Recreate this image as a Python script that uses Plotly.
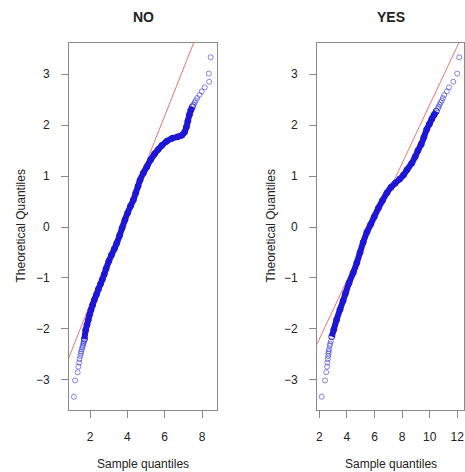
import plotly.graph_objects as go

# ---------------- data ----------------
panel_titles = ["NO", "YES"]

# NO panel: dense band of points (sample quantile, theoretical quantile)
no_band_sample = [1.70, 1.77, 1.84, 1.91, 1.98, 2.05, 2.14, 2.23, 2.34,
                  2.45, 2.56, 2.66, 2.76, 2.86, 3.01, 3.15, 3.30, 3.43, 3.58, 3.72, 3.87,
                  4.02, 4.17, 4.32, 4.45, 4.57, 4.68, 4.86, 5.04, 5.25, 5.45, 5.65, 5.85,
                  6.10, 6.40, 6.70, 6.92, 7.06, 7.16, 7.24, 7.32, 7.40, 7.48]
no_band_theor = [-2.20, -2.02, -1.92, -1.82, -1.72, -1.63, -1.53, -1.43, -1.33,
                 -1.22, -1.12, -1.03, -0.93, -0.82, -0.67, -0.55, -0.43, -0.32, -0.17, -0.02, 0.14,
                 0.28, 0.41, 0.53, 0.67, 0.80, 0.92, 1.06, 1.18, 1.32, 1.43, 1.52, 1.60,
                 1.68, 1.74, 1.77, 1.80, 1.86, 1.96, 2.08, 2.20, 2.29, 2.36]
# NO panel: individually visible tail points
no_tail_sample = [1.14, 1.20, 1.34, 1.38, 1.42, 1.44, 1.48, 1.51, 1.53, 1.56, 1.59, 1.61,
                  1.64, 1.66, 1.68,
                  7.55, 7.60, 7.66, 7.74, 7.86, 7.98, 8.14, 8.38, 8.36, 8.46]
no_tail_theor = [-3.33, -3.01, -2.85, -2.74, -2.66, -2.59, -2.53, -2.48, -2.44, -2.40, -2.36, -2.33,
                 -2.29, -2.27, -2.24,
                 2.40, 2.44, 2.48, 2.53, 2.59, 2.66, 2.74, 2.85, 3.01, 3.33]
# NO panel: sample quartiles used for the reference line
no_quartiles = [2.91, 4.37]

# YES panel
yes_band_sample = [2.90, 3.05, 3.25, 3.50, 3.72, 3.90, 4.15, 4.45, 4.72,
                   4.95, 5.18, 5.45, 5.72, 5.98, 6.28, 6.58, 6.90, 7.20, 7.50, 7.82, 8.10,
                   8.35, 8.70, 8.95, 9.15, 9.38, 9.58, 9.78, 9.98, 10.16, 10.32, 10.48]
yes_band_theor = [-2.15, -2.01, -1.82, -1.62, -1.45, -1.30, -1.10, -0.90, -0.70,
                  -0.50, -0.30, -0.10, 0.05, 0.20, 0.37, 0.52, 0.67, 0.78, 0.86, 0.94, 1.02,
                  1.12, 1.25, 1.38, 1.50, 1.62, 1.76, 1.91, 2.02, 2.12, 2.20, 2.27]
yes_tail_sample = [2.17, 2.41, 2.50, 2.56, 2.58, 2.61, 2.64, 2.66, 2.68, 2.70, 2.75, 2.79, 2.83,
                   10.60, 10.66, 10.72, 10.80, 10.88, 10.96, 11.05, 11.25, 11.40, 11.71, 12.00, 12.14]
yes_tail_theor = [-3.33, -3.01, -2.85, -2.74, -2.66, -2.59, -2.53, -2.48, -2.44, -2.40, -2.33, -2.29, -2.24,
                  2.33, 2.36, 2.40, 2.44, 2.48, 2.53, 2.59, 2.66, 2.74, 2.85, 3.01, 3.33]
yes_quartiles = [4.65, 7.00]

q75 = 0.6745  # standard normal 75% quantile

x_ticks = [[2, 4, 6, 8], [2, 4, 6, 8, 10, 12]]
y_ticks = [-3, -2, -1, 0, 1, 2, 3]

# ---------------- figure ----------------
W, H = 465, 472
BAND = "#1e16d6"
TAIL = "rgba(50,50,235,0.6)"
RED = "rgba(238,90,90,0.85)"
GRAY = "#8a8a8a"
TXT = "#222222"
FONT = "Liberation Sans, Arial, sans-serif"

fig = go.Figure()

panels = [
    (no_band_sample, no_band_theor, no_tail_sample, no_tail_theor, no_quartiles, "x", "y"),
    (yes_band_sample, yes_band_theor, yes_tail_sample, yes_tail_theor, yes_quartiles, "x2", "y2"),
]
for bs, bt, ts, tt, q, xa, ya in panels:
    slope = (2 * q75) / (q[1] - q[0])
    lx = [q[0] - 20, q[1] + 20]
    ly = [-q75 + slope * (v - q[0]) for v in lx]
    fig.add_trace(go.Scatter(x=lx, y=ly, mode="lines", line=dict(color=RED, width=1),
                             xaxis=xa, yaxis=ya, hoverinfo="skip"))
    fig.add_trace(go.Scatter(x=bs, y=bt, mode="lines+markers",
                             line=dict(color=BAND, width=6, shape="spline"),
                             marker=dict(symbol="circle-open", size=6, color=BAND, line=dict(width=1)),
                             xaxis=xa, yaxis=ya, hoverinfo="skip"))
    fig.add_trace(go.Scatter(x=ts, y=tt, mode="markers",
                             marker=dict(symbol="circle-open", size=5, color=TAIL, line=dict(width=1)),
                             xaxis=xa, yaxis=ya, hoverinfo="skip"))

ydom = [1 - 410 / H, 1 - 43 / H]
xdoms = [[69 / W, 217 / W], [317 / W, 464 / W]]
xranges = [[0.875, 8.80], [1.83, 12.49]]

axis_common = dict(showgrid=False, zeroline=False, showline=True, mirror=True,
                   linecolor=GRAY, linewidth=1, ticks="outside", ticklen=7,
                   tickcolor=GRAY, tickwidth=1,
                   tickfont=dict(family=FONT, size=12, color=TXT))

fig.update_layout(
    width=W, height=H,
    margin=dict(l=0, r=0, t=0, b=0),
    paper_bgcolor="white", plot_bgcolor="white",
    showlegend=False,
    xaxis=dict(domain=xdoms[0], range=xranges[0], tickvals=x_ticks[0], anchor="y",
               ticklabelstandoff=9, **axis_common),
    yaxis=dict(domain=ydom, range=[-3.59, 3.61], tickvals=y_ticks, anchor="x",
               ticklabelstandoff=9, **axis_common),
    xaxis2=dict(domain=xdoms[1], range=xranges[1], tickvals=x_ticks[1], anchor="y2",
                ticklabelstandoff=9, **axis_common),
    yaxis2=dict(domain=ydom, range=[-3.59, 3.61], tickvals=y_ticks, anchor="x2",
                ticklabelstandoff=9, **axis_common),
)

ann = []
centers = [(xdoms[0][0] + xdoms[0][1]) / 2, (xdoms[1][0] + xdoms[1][1]) / 2]
ytitle_x = [20 / W, 270 / W]
for i in range(2):
    ann.append(dict(text="<b>%s</b>" % panel_titles[i], x=centers[i], y=1 - 17 / H,
                    xref="paper", yref="paper", showarrow=False,
                    font=dict(family=FONT, size=14, color=TXT), xanchor="center", yanchor="middle"))
    ann.append(dict(text="Sample quantiles", x=centers[i], y=1 - 464 / H,
                    xref="paper", yref="paper", showarrow=False,
                    font=dict(family=FONT, size=12, color=TXT), xanchor="center", yanchor="middle"))
    ann.append(dict(text="Theoretical Quantiles", x=ytitle_x[i], y=(ydom[0] + ydom[1]) / 2,
                    xref="paper", yref="paper", showarrow=False, textangle=-90,
                    font=dict(family=FONT, size=12, color=TXT), xanchor="center", yanchor="middle"))
fig.update_layout(annotations=ann)

fig.write_html("out.html")
